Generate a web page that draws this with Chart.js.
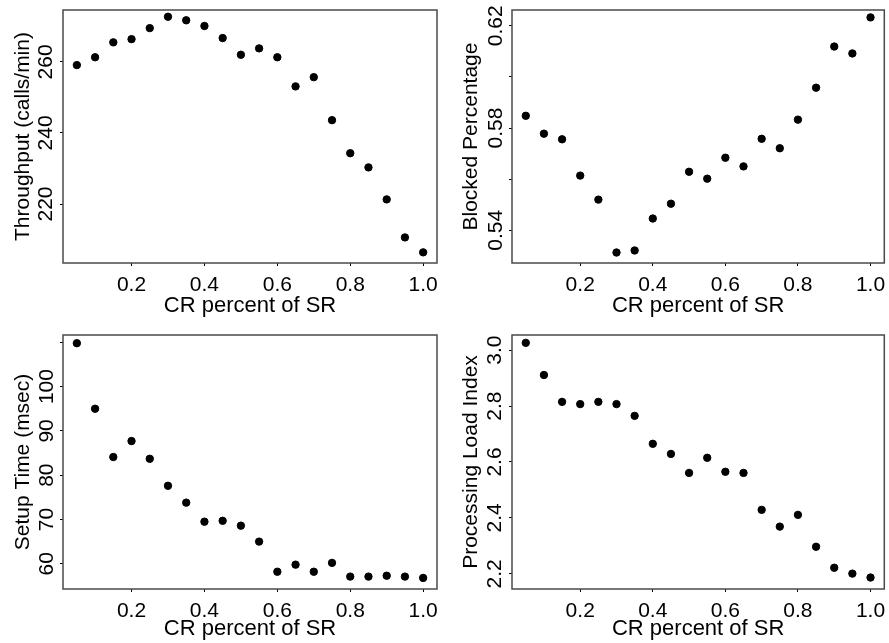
<!DOCTYPE html>
<html lang="en">
<head>
<meta charset="UTF-8">
<title>CR percent of SR</title>
<style>
  body { margin: 0; background: #fff; }
  #wrap { position: relative; width: 889px; height: 643px; }
  canvas { position: absolute; }
</style>
</head>
<body>
<div id="wrap">
  <canvas id="c1" width="444" height="321" style="left:0;top:0"></canvas>
  <canvas id="c2" width="445" height="321" style="left:444px;top:0"></canvas>
  <canvas id="c3" width="444" height="322" style="left:0;top:321px"></canvas>
  <canvas id="c4" width="445" height="322" style="left:444px;top:321px"></canvas>
</div>

<script src="https://cdn.jsdelivr.net/npm/chart.js"></script>
<script>
// data
const crPercent = [0.05, 0.10, 0.15, 0.20, 0.25, 0.30, 0.35, 0.40, 0.45, 0.50,
                   0.55, 0.60, 0.65, 0.70, 0.75, 0.80, 0.85, 0.90, 0.95, 1.00];
const throughput = [259.1, 261.3, 265.5, 266.4, 269.5, 272.7, 271.7, 270.1, 266.7, 262.0,
                    263.8, 261.3, 253.1, 255.7, 243.6, 234.3, 230.3, 221.3, 210.6, 206.4];
const blocked = [0.5848, 0.5778, 0.5756, 0.5614, 0.5520, 0.5313, 0.5321, 0.5446, 0.5504, 0.5629,
                 0.5602, 0.5684, 0.5650, 0.5758, 0.5721, 0.5833, 0.5958, 0.6119, 0.6092, 0.6233];
const setupTime = [109.8, 95.0, 84.1, 87.7, 83.7, 77.6, 73.8, 69.5, 69.7, 68.6,
                   65.0, 58.2, 59.8, 58.2, 60.2, 57.1, 57.1, 57.3, 57.1, 56.8];
const procLoad = [3.026, 2.911, 2.815, 2.807, 2.815, 2.807, 2.765, 2.665, 2.629, 2.561,
                  2.615, 2.565, 2.561, 2.429, 2.369, 2.411, 2.297, 2.222, 2.201, 2.187];

const xTicks = [0.2, 0.4, 0.6, 0.8, 1.0];
const throughputTicks = [220, 240, 260];
const throughputLabels = ['220', '240', '260'];
const blockedTicks = [0.54, 0.56, 0.58, 0.60, 0.62];
const blockedLabels = ['0.54', '', '0.58', '', '0.62'];
const setupTicks = [60, 70, 80, 90, 100, 110];
const setupLabels = ['60', '70', '80', '90', '100', ''];
const loadTicks = [2.2, 2.4, 2.6, 2.8, 3.0];
const loadLabels = ['2.2', '2.4', '2.6', '2.8', '3.0'];

Chart.defaults.font.family = "'Liberation Sans', Arial, sans-serif";
Chart.defaults.color = '#000';

// R style box round the plot region
const boxPlugin = {
    id: 'box',
    afterDraw(chart) {
        const a = chart.chartArea;
        const ctx = chart.ctx;
        ctx.save();
        ctx.strokeStyle = '#4a4a4a';
        ctx.lineWidth = 1.5;
        ctx.strokeRect(a.left, a.top, a.right - a.left, a.bottom - a.top);
        ctx.restore();
    }
};

function makePanel(id, yTitle, values, yMin, yMax, yTicks, yLabels, box) {
    const cv = document.getElementById(id);
    return new Chart(cv, {
        type: 'scatter',
        data: {
            datasets: [{
                data: crPercent.map((x, i) => ({ x: x, y: values[i] })),
                backgroundColor: '#000',
                borderColor: '#000',
                pointRadius: 3.7,
                pointHoverRadius: 3.7
            }]
        },
        options: {
            responsive: false,
            animation: false,
            layout: { padding: { left: 0, top: box.top, right: cv.width - box.right, bottom: 0 } },
            plugins: { legend: { display: false }, tooltip: { enabled: false } },
            scales: {
                x: {
                    type: 'linear',
                    min: 0.012,
                    max: 1.038,
                    afterBuildTicks: s => { s.ticks = xTicks.map(v => ({ value: v })); },
                    afterFit: s => { s.height = cv.height - box.bottom; s.paddingLeft = 0; s.paddingRight = 0; },
                    grid: { drawOnChartArea: false, tickLength: 3, color: '#000' },
                    border: { display: false },
                    ticks: { font: { size: 21 }, padding: 7, maxRotation: 0, autoSkip: false,
                             callback: v => v.toFixed(1) },
                    title: { display: true, text: 'CR percent of SR', font: { size: 22 },
                             padding: { top: 0, bottom: box.xtPad } }
                },
                y: {
                    type: 'linear',
                    min: yMin,
                    max: yMax,
                    afterBuildTicks: s => { s.ticks = yTicks.map(v => ({ value: v })); },
                    afterFit: s => { s.width = box.left; s.paddingTop = 0; s.paddingBottom = 0; },
                    grid: { drawOnChartArea: false, tickLength: 3, color: '#000' },
                    border: { display: false },
                    ticks: { font: { size: 21 }, padding: box.ytPad, minRotation: 90, maxRotation: 90,
                             crossAlign: 'center', autoSkip: false,
                             callback: (v, i) => yLabels[i] },
                    title: { display: true, text: yTitle, font: { size: 21 },
                             padding: { top: box.ttPad, bottom: 0 } }
                }
            }
        },
        plugins: [boxPlugin]
    });
}

makePanel('c1', 'Throughput (calls/min)', throughput, 203.4, 274.6, throughputTicks, throughputLabels,
    { left: 63, right: 437, top: 10, bottom: 263, xtPad: 1.8, ytPad: -4, ttPad: 10.5 });
makePanel('c2', 'Blocked Percentage', blocked, 0.5272, 0.6262, blockedTicks, blockedLabels,
    { left: 68, right: 442, top: 10, bottom: 263, xtPad: 1.8, ytPad: -7.2, ttPad: 14.5 });
makePanel('c3', 'Setup Time (msec)', setupTime, 54.3, 111.65, setupTicks, setupLabels,
    { left: 63, right: 437, top: 14, bottom: 268, xtPad: 0.5, ytPad: -4.5, ttPad: 10.5 });
makePanel('c4', 'Processing Load Index', procLoad, 2.146, 3.054, loadTicks, loadLabels,
    { left: 68, right: 442, top: 14, bottom: 268, xtPad: 0.5, ytPad: -0.6, ttPad: 14.5 });
</script>
</body>
</html>
